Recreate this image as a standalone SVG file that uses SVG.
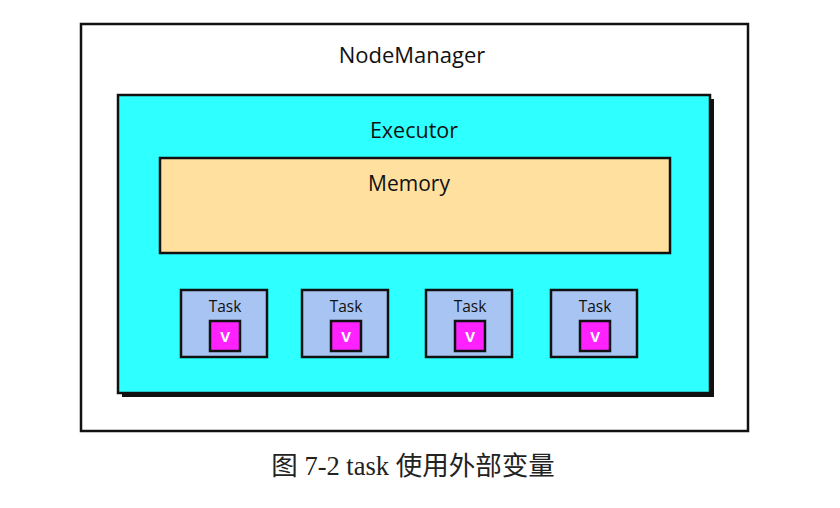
<svg xmlns="http://www.w3.org/2000/svg" width="840" height="508" viewBox="0 0 840 508">
<style>
.lbl{font-family:"Open Sans","Liberation Sans",sans-serif;fill:#111;text-anchor:middle}
.box{stroke:#111;stroke-width:2.5}
.task{fill:#A8C4F2;stroke:#111;stroke-width:2.5}
.v{fill:#FF22FF;stroke:#111;stroke-width:2.5}
.vt{font-family:"Open Sans","Liberation Sans",sans-serif;fill:#fff;font-size:15px;font-weight:bold;text-anchor:middle}
</style>
<rect width="840" height="508" fill="#fff"/>
<g id="nodemanager">
<rect x="81" y="24" width="667" height="407" fill="#fff" class="box"/>
<text x="412" y="63" class="lbl" font-size="22">NodeManager</text>
</g>
<g id="executor">
<rect x="122" y="99" width="592" height="298" fill="#111"/>
<rect x="118" y="95" width="592" height="298" fill="#2EFFFF" class="box"/>
<text x="414" y="138" class="lbl" font-size="21.5">Executor</text>
</g>
<g id="memory">
<rect x="160" y="158" width="510" height="95" fill="#FFE09E" class="box"/>
<text x="409" y="191" class="lbl" font-size="21">Memory</text>
</g>
<g id="task1">
<rect x="181" y="290" width="86" height="67" class="task"/>
<text x="225" y="312" class="lbl" font-size="15.5">Task</text>
<rect x="210" y="321" width="30" height="30" class="v"/>
<text x="225" y="342" class="vt">V</text>
</g>
<g id="task2">
<rect x="302" y="290" width="86" height="67" class="task"/>
<text x="346" y="312" class="lbl" font-size="15.5">Task</text>
<rect x="331" y="321" width="30" height="30" class="v"/>
<text x="346" y="342" class="vt">V</text>
</g>
<g id="task3">
<rect x="426" y="290" width="86" height="67" class="task"/>
<text x="470" y="312" class="lbl" font-size="15.5">Task</text>
<rect x="455" y="321" width="30" height="30" class="v"/>
<text x="470" y="342" class="vt">V</text>
</g>
<g id="task4">
<rect x="551" y="290" width="86" height="67" class="task"/>
<text x="595" y="312" class="lbl" font-size="15.5">Task</text>
<rect x="580" y="321" width="30" height="30" class="v"/>
<text x="595" y="342" class="vt">V</text>
</g>
<g id="connectors"></g>
<text x="413" y="475" font-family="'Liberation Serif','Noto Sans CJK SC',serif" font-size="26.5" fill="#222" text-anchor="middle">图 7-2 task 使用外部变量</text>
</svg>
